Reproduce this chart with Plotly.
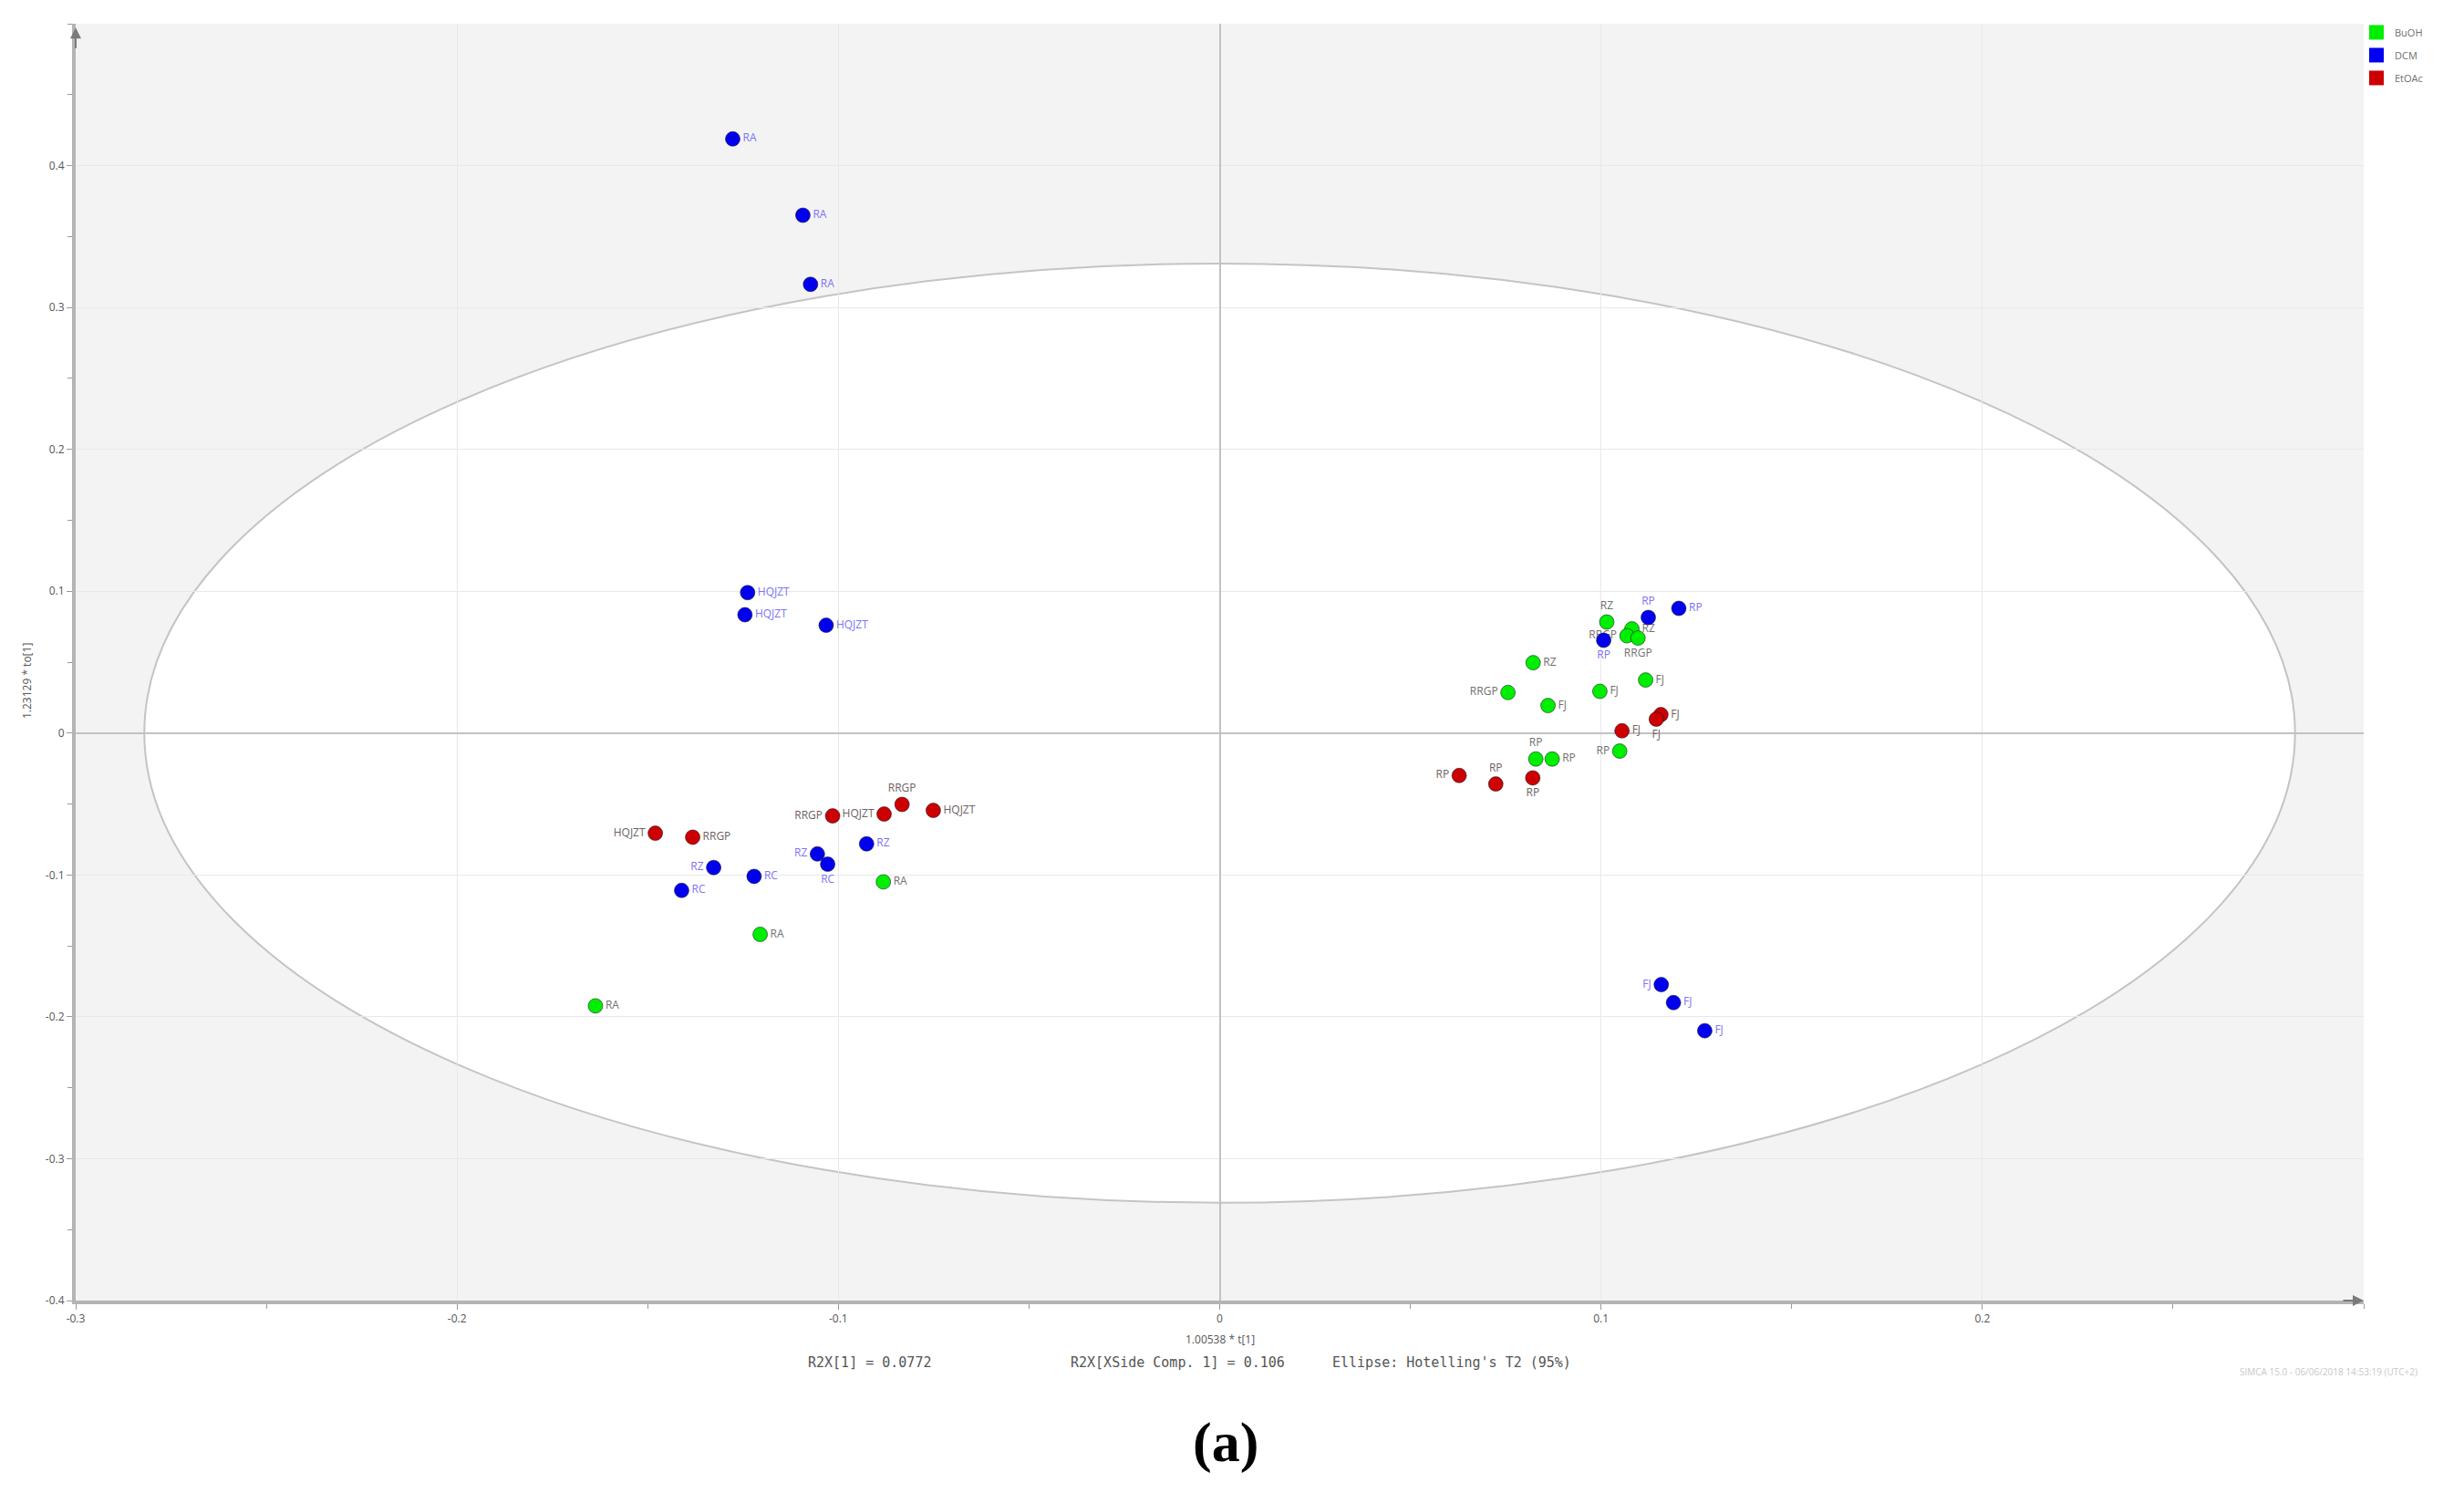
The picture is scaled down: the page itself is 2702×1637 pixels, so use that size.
import plotly.graph_objects as go

# ---------------- data ----------------
buoh_labels = ["RA", "RA", "RA", "RZ", "RZ", "RRGP", "RRGP", "RZ", "RRGP", "FJ", "FJ", "FJ", "RP", "RP", "RP"]
buoh_x = [-0.1637, -0.1205, -0.0882, 0.1015, 0.1081, 0.1068, 0.1097, 0.0822, 0.0756, 0.0861, 0.0997, 0.1117, 0.0829, 0.0872, 0.1049]
buoh_y = [-0.1923, -0.1419, -0.1049, 0.0783, 0.0734, 0.0686, 0.0670, 0.0496, 0.0286, 0.0194, 0.0294, 0.0374, -0.0183, -0.0183, -0.0127]
buoh_pos = ["middle right", "middle right", "middle right", "top center", "middle right", "middle left", "bottom center",
            "middle right", "middle left", "middle right", "middle right", "middle right", "top center", "middle right", "middle left"]

dcm_labels = ["RA", "RA", "RA", "HQJZT", "HQJZT", "HQJZT", "RZ", "RC", "RC", "RZ", "RC", "RZ", "RP", "RP", "RP", "FJ", "FJ", "FJ"]
dcm_x = [-0.1277, -0.1093, -0.1073, -0.1238, -0.1245, -0.1032, -0.1327, -0.1411, -0.1221, -0.1055, -0.1028, -0.0926,
         0.1007, 0.1124, 0.1204, 0.1158, 0.1190, 0.1272]
dcm_y = [0.4188, 0.3650, 0.3163, 0.0990, 0.0834, 0.0760, -0.0948, -0.1109, -0.1010, -0.0852, -0.0924, -0.0781,
         0.0654, 0.0815, 0.0879, -0.1773, -0.1900, -0.2098]
dcm_pos = ["middle right", "middle right", "middle right", "middle right", "middle right", "middle right",
           "middle left", "middle right", "middle right", "middle left", "bottom center", "middle right",
           "bottom center", "top center", "middle right", "middle left", "middle right", "middle right"]

etoac_labels = ["HQJZT", "RRGP", "RRGP", "HQJZT", "RRGP", "HQJZT", "RP", "RP", "RP", "FJ", "FJ", "FJ"]
etoac_x = [-0.1480, -0.1382, -0.1015, -0.0880, -0.0833, -0.0751, 0.0628, 0.0724, 0.0821, 0.1055, 0.1157, 0.1145]
etoac_y = [-0.0706, -0.0734, -0.0584, -0.0571, -0.0503, -0.0545, -0.0299, -0.0359, -0.0316, 0.0016, 0.0130, 0.0098]
etoac_pos = ["middle left", "middle right", "middle left", "middle left", "top center", "middle right",
             "middle left", "top center", "bottom center", "middle right", "middle right", "bottom center"]

series_names = ["BuOH", "DCM", "EtOAc"]
series_colors = ["#00ee00", "#0000ee", "#cc0000"]
label_colors = ["#707070", "#7c74f2", "#6e6262"]

x_tickvals = [-0.3, -0.2, -0.1, 0, 0.1, 0.2]
x_ticktext = ["-0.3", "-0.2", "-0.1", "0", "0.1", "0.2"]
y_tickvals = [-0.4, -0.3, -0.2, -0.1, 0, 0.1, 0.2, 0.3, 0.4]
y_ticktext = ["-0.4", "-0.3", "-0.2", "-0.1", "0", "0.1", "0.2", "0.3", "0.4"]

ellipse_a = 0.282   # Hotelling's T2 (95%) semi-axis along t[1]
ellipse_b = 0.331   # semi-axis along to[1]

x_title = "1.00538 * t[1]"
y_title = "1.23129 * to[1]"
footer_texts = ["R2X[1] = 0.0772", "R2X[XSide Comp. 1] = 0.106", "Ellipse: Hotelling's T2 (95%)"]
watermark = "SIMCA 15.0 - 06/06/2018 14:53:19 (UTC+2)"
panel_label = "(a)"

# ---------------- figure ----------------
fig = go.Figure()

groups = [
    (buoh_x, buoh_y, buoh_labels, buoh_pos),
    (dcm_x, dcm_y, dcm_labels, dcm_pos),
    (etoac_x, etoac_y, etoac_labels, etoac_pos),
]

for i, (xs, ys, labs, pos) in enumerate(groups):
    fig.add_trace(go.Scatter(
        x=xs, y=ys, mode="markers+text", text=labs, textposition=pos,
        textfont=dict(family="Open Sans, Arial, sans-serif", size=12, color=label_colors[i]),
        marker=dict(size=16, color=series_colors[i], line=dict(color="rgba(20,20,40,0.55)", width=1)),
        name=series_names[i], showlegend=False, cliponaxis=False,
    ))

# legend entries with square swatches
for i, nm in enumerate(series_names):
    fig.add_trace(go.Scatter(
        x=[None], y=[None], mode="markers", name=nm, legendgroup=nm,
        marker=dict(symbol="square", size=16, color=series_colors[i], line=dict(width=0)),
        showlegend=True,
    ))

# Hotelling ellipse
fig.add_shape(type="circle", xref="x", yref="y",
              x0=-ellipse_a, x1=ellipse_a, y0=-ellipse_b, y1=ellipse_b,
              fillcolor="white", line=dict(color="#c4c4c4", width=2), layer="below")

axis_common = dict(
    showgrid=True, gridcolor="#e8e8e8", gridwidth=1,
    zeroline=True, zerolinecolor="#c2c2c2", zerolinewidth=2,
    showline=True, linecolor="#b4b4b4", linewidth=4,
    ticks="outside", ticklen=6, tickcolor="#9a9a9a", tickwidth=1,
    tickfont=dict(family="Open Sans, Arial, sans-serif", size=12, color="#555555"),
    minor=dict(ticks="outside", ticklen=5, tickcolor="#9a9a9a", dtick=0.05, showgrid=False),
)

fig.update_xaxes(range=[-0.3, 0.3], tickvals=x_tickvals, ticktext=x_ticktext, **axis_common)
fig.update_yaxes(range=[-0.4, 0.5], tickvals=y_tickvals, ticktext=y_ticktext, **axis_common)

# axis arrows
fig.add_annotation(xref="paper", yref="paper", x=1.0, y=0, ax=-24, ay=0, text="", showarrow=True,
                   arrowhead=2, arrowsize=1.2, arrowwidth=2, arrowcolor="#7a7a7a")
fig.add_annotation(xref="paper", yref="paper", x=0, y=0.997, ax=0, ay=24, text="", showarrow=True,
                   arrowhead=2, arrowsize=1.2, arrowwidth=2, arrowcolor="#7a7a7a")

# axis titles
fig.add_annotation(xref="paper", yref="paper", x=0.5, y=-0.030, text=x_title, showarrow=False,
                   xanchor="center", yanchor="middle",
                   font=dict(family="Open Sans, Arial, sans-serif", size=12, color="#555555"))
fig.add_annotation(xref="paper", yref="paper", x=-0.0215, y=0.485, text=y_title, showarrow=False,
                   textangle=-90, xanchor="center", yanchor="middle",
                   font=dict(family="Open Sans, Arial, sans-serif", size=12, color="#555555"))

# footer statistics
footer_x = [0.3468, 0.4815, 0.6015]
for t, fx in zip(footer_texts, footer_x):
    fig.add_annotation(xref="paper", yref="paper", x=fx, y=-0.0486, text=t, showarrow=False,
                       xanchor="center", yanchor="middle",
                       font=dict(family="DejaVu Sans Mono, monospace", size=15, color="#555555"))

fig.add_annotation(xref="paper", yref="paper", x=0.9845, y=-0.0557, text=watermark, showarrow=False,
                   xanchor="center", yanchor="middle",
                   font=dict(family="Open Sans, Arial, sans-serif", size=10, color="#c8c8c8"))

fig.add_annotation(xref="paper", yref="paper", x=0.5025, y=-0.111, text="<b>" + panel_label + "</b>",
                   showarrow=False, xanchor="center", yanchor="middle",
                   font=dict(family="Liberation Serif, DejaVu Serif, serif", size=62, color="#000000"))

fig.update_layout(
    width=2702, height=1637,
    margin=dict(l=75, r=118, t=18, b=219),
    paper_bgcolor="white", plot_bgcolor="#f3f3f3",
    legend=dict(x=0.9976, y=1.0036, xanchor="left", yanchor="top",
                font=dict(family="Open Sans, Arial, sans-serif", size=11, color="#707070"),
                traceorder="grouped", tracegroupgap=6, itemwidth=30,
                bgcolor="rgba(0,0,0,0)", borderwidth=0),
    showlegend=True,
)

fig.write_html("out.html")
